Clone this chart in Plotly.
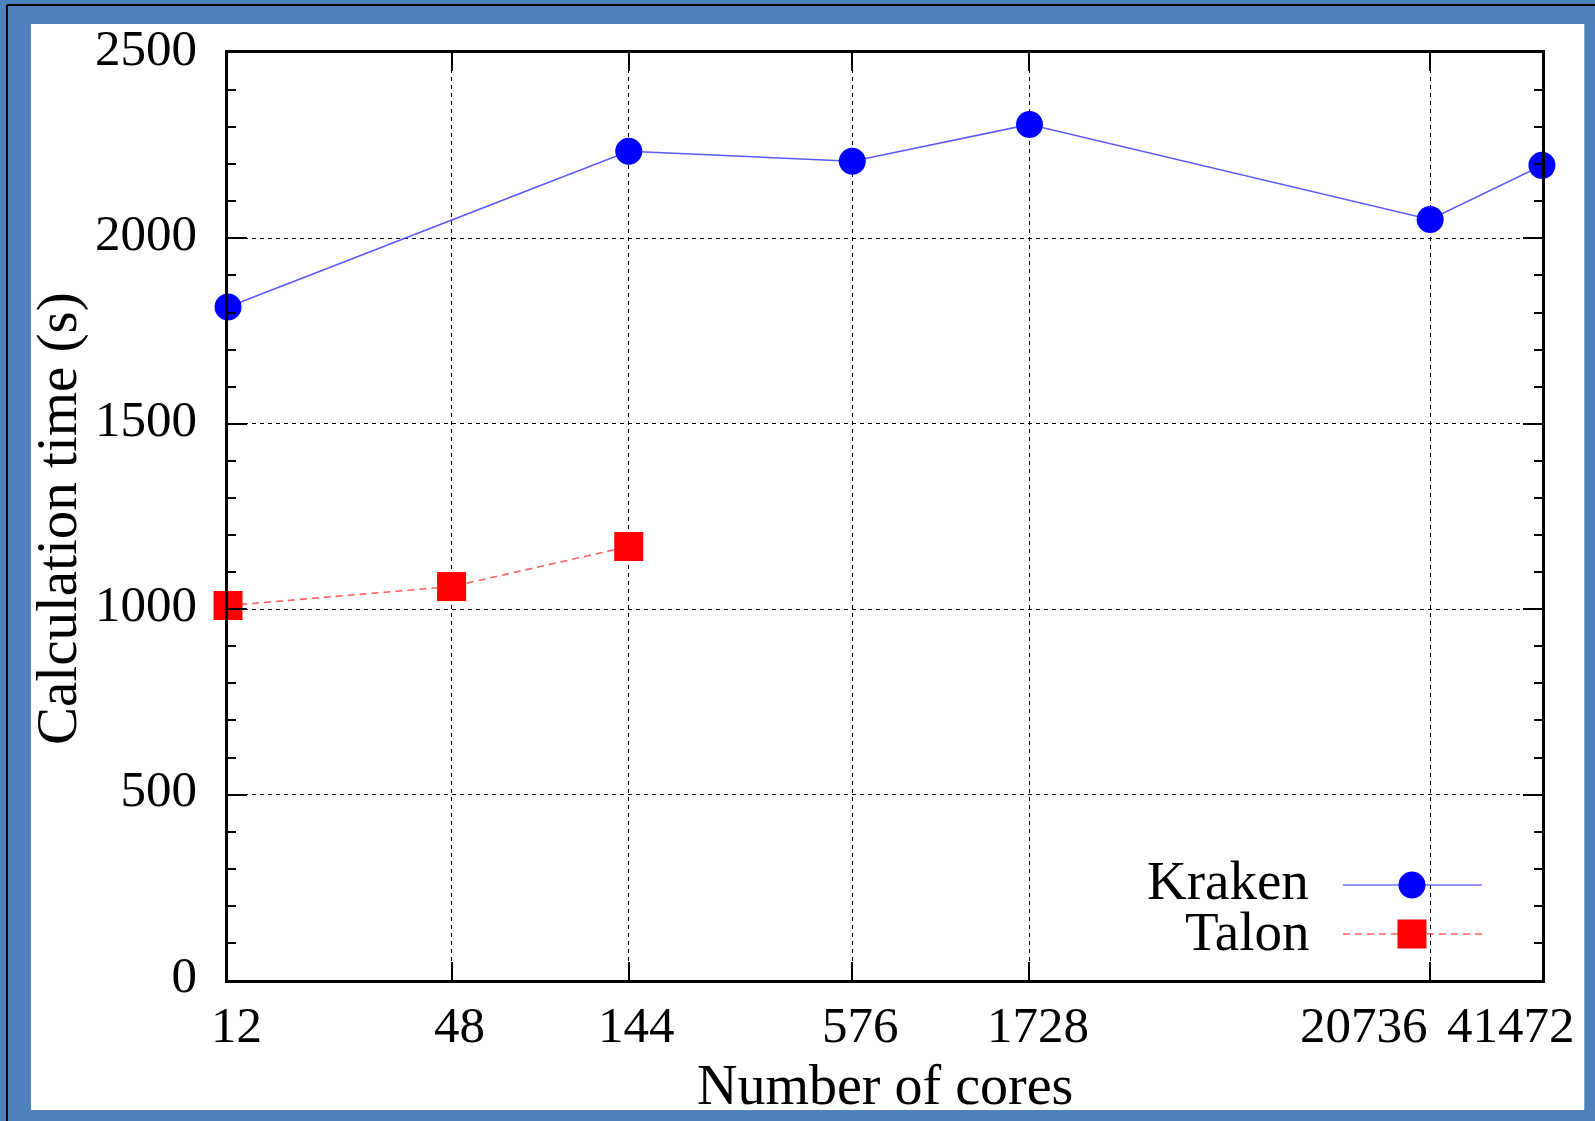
import math
import plotly.graph_objects as go

# ---- data ----
x_ticks = [12, 48, 144, 576, 1728, 20736, 41472]
x_tick_labels = ["12", "48", "144", "576", "1728", "20736", "41472"]
x_label_shift = [8, 8, 8, 8, 9, -66, -31]

kraken_cores = [12, 144, 576, 1728, 20736, 41472]
kraken_time = [1815, 2235, 2208, 2307, 2051, 2197]

talon_cores = [12, 48, 144]
talon_time = [1010, 1061, 1169]

y_ticks = [0, 500, 1000, 1500, 2000, 2500]

# ---- layout geometry (pixels) ----
W, H = 1595, 1121
L, R, T, B = 228, 1541.7, 53, 980
pw, ph = R - L, B - T


def px(xp):
    return (xp - L) / pw


def py(yp):
    return (B - yp) / ph


FONT = "Liberation Serif"
BLUE_FRAME = "#4F81BD"
EPS = 1e-4

fig = go.Figure()

fig.add_trace(go.Scatter(
    x=kraken_cores, y=kraken_time, mode="lines+markers", name="Kraken",
    line=dict(color="rgba(60,60,255,0.85)", width=1.6),
    marker=dict(symbol="circle", size=27, color="#0000FF", line=dict(width=0)),
    cliponaxis=False, showlegend=False,
))
fig.add_trace(go.Scatter(
    x=talon_cores, y=talon_time, mode="lines+markers", name="Talon",
    line=dict(color="rgba(255,70,70,0.85)", width=1.6, dash="7px,5px"),
    marker=dict(symbol="square", size=29, color="#FF0000", line=dict(width=0)),
    cliponaxis=False, showlegend=False,
))

shapes = []
# frame: white inner panel over blue paper, thin black outer edge on left/top
shapes.append(dict(type="rect", xref="paper", yref="paper",
                   x0=px(31), x1=px(1584), y0=py(1110), y1=py(24),
                   fillcolor="white", line=dict(width=0), layer="below"))
shapes.append(dict(type="line", xref="paper", yref="paper",
                   x0=px(7), x1=px(7), y0=py(1121), y1=py(5),
                   line=dict(color="black", width=2), layer="below"))
shapes.append(dict(type="line", xref="paper", yref="paper",
                   x0=px(7), x1=px(1595), y0=py(5), y1=py(5),
                   line=dict(color="black", width=2), layer="below"))

# custom legend (sample on the right of the text)
leg_x0, leg_x1, leg_xm = px(1342.7), px(1481.7), px(1411.7)
k_y, t_y = py(885), py(934)
shapes.append(dict(type="line", xref="paper", yref="paper",
                   x0=leg_x0, x1=leg_x1, y0=k_y, y1=k_y,
                   line=dict(color="rgba(60,60,255,0.55)", width=2), layer="above"))
shapes.append(dict(type="line", xref="paper", yref="paper",
                   x0=leg_x0, x1=leg_x1, y0=t_y, y1=t_y,
                   line=dict(color="rgba(255,70,70,0.65)", width=2, dash="7px,5px"),
                   layer="above"))
shapes.append(dict(type="circle", xref="paper", yref="paper",
                   xsizemode="pixel", ysizemode="pixel",
                   xanchor=leg_xm, yanchor=k_y,
                   x0=-13.5, x1=13.5, y0=-13.5, y1=13.5,
                   fillcolor="#0000FF", line=dict(width=0), layer="above"))
shapes.append(dict(type="rect", xref="paper", yref="paper",
                   xsizemode="pixel", ysizemode="pixel",
                   xanchor=leg_xm, yanchor=t_y,
                   x0=-14.5, x1=14.5, y0=-14.5, y1=14.5,
                   fillcolor="#FF0000", line=dict(width=0), layer="above"))

annotations = []
for name, yy in (("Kraken", py(880)), ("Talon", py(931))):
    annotations.append(dict(text=name, xref="paper", yref="paper",
                            x=px(1311), y=yy, xanchor="right", yanchor="middle",
                            height=48, valign="middle",
                            showarrow=False, font=dict(family=FONT, size=55, color="black")))

# x tick labels
for v, lab, sh in zip(x_ticks, x_tick_labels, x_label_shift):
    annotations.append(dict(text=lab, xref="x", yref="paper",
                            x=math.log10(v), y=py(1025), xshift=sh,
                            xanchor="center", yanchor="middle", showarrow=False,
                            font=dict(family=FONT, size=51, color="black")))

# axis titles
annotations.append(dict(text="Number of cores", xref="paper", yref="paper",
                        x=0.5, y=py(1085), xanchor="center", yanchor="middle",
                        showarrow=False, font=dict(family=FONT, size=56, color="black")))
annotations.append(dict(text="Calculation time (s)", xref="paper", yref="paper",
                        x=px(57), y=py(518), xanchor="center", yanchor="middle",
                        textangle=-90, showarrow=False,
                        font=dict(family=FONT, size=57, color="black")))

fig.update_layout(
    width=W, height=H,
    margin=dict(l=L, r=W - R, t=T, b=H - B, autoexpand=False),
    paper_bgcolor=BLUE_FRAME, plot_bgcolor="white",
    shapes=shapes, annotations=annotations,
    showlegend=False,
    font=dict(family=FONT, color="black"),
)

fig.update_xaxes(
    type="log", range=[math.log10(x_ticks[0]) - EPS, math.log10(x_ticks[-1]) + EPS],
    tickvals=x_ticks, showticklabels=False,
    ticks="inside", ticklen=18, tickwidth=2, tickcolor="black",
    showline=True, linewidth=2.5, linecolor="black", mirror="ticks",
    showgrid=True, gridcolor="black", gridwidth=1.2, griddash="4px,4px",
    zeroline=False,
)
fig.update_yaxes(
    range=[0, 2500], tickvals=y_ticks,
    ticks="inside", ticklen=19, tickwidth=2, tickcolor="black",
    minor=dict(dtick=100, ticks="inside", ticklen=8, tickwidth=2,
               tickcolor="black", showgrid=False),
    showline=True, linewidth=2.5, linecolor="black", mirror="ticks",
    showgrid=True, gridcolor="black", gridwidth=1.2, griddash="4px,4px",
    zeroline=False,
    tickfont=dict(family=FONT, size=51, color="black"),
    ticklabelstandoff=18, ticklabelshift=-6,
)

fig.write_html("out.html")
